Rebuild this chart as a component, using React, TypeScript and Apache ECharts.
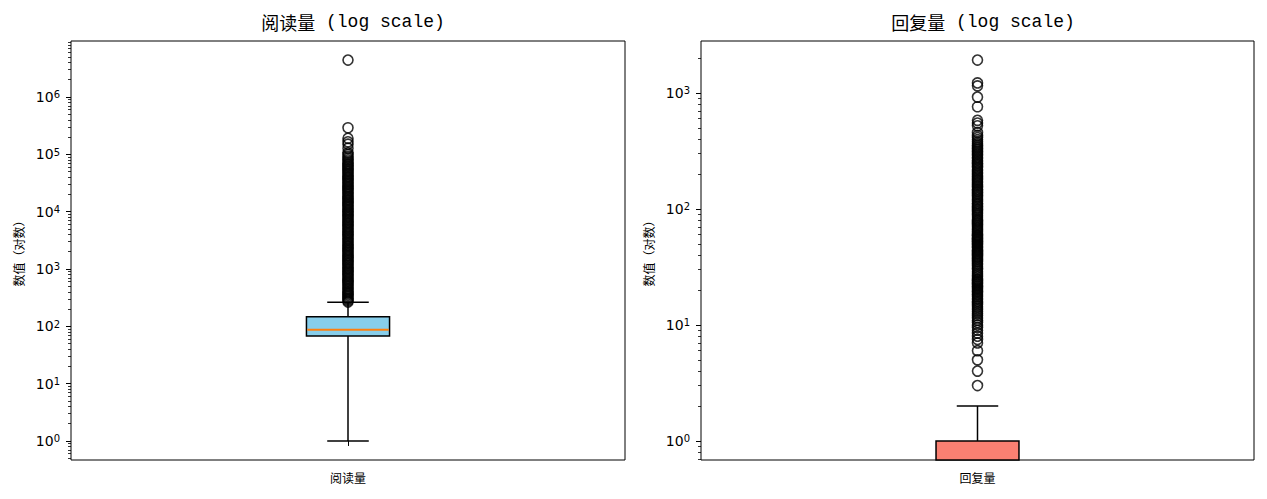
import React, { useEffect, useRef } from "react";
import * as echarts from "echarts";

// ---------- data ----------
const panelTitleCJK = ["阅读量", "回复量"];
const panelTitleSuffix = " (log scale)";
const categories = ["阅读量", "回复量"];
const yAxisName = "数值（对数）";

// [lower whisker, Q1, median, Q3, upper whisker]
const readBox = [1, 68, 87, 146, 263];
const replyBox = [0, 0, 0, 1, 2];

const readFliers = [
  265, 280, 295, 310, 330, 350, 370, 390, 410, 435, 460, 490, 520, 550, 580, 615, 650, 690, 730, 775,
  820, 870, 920, 975, 1030, 1090, 1160, 1230, 1300, 1380, 1460, 1550, 1640, 1740, 1840, 1950, 2070,
  2190, 2320, 2460, 2600, 2760, 2920, 3090, 3280, 3470, 3680, 3900, 4130, 4370, 4630, 4910, 5200,
  5510, 5840, 6180, 6550, 6940, 7350, 7790, 8250, 8740, 9260, 9810, 10400, 11000, 11700, 12400,
  13100, 13900, 14700, 15600, 16500, 17500, 18500, 19600, 20800, 22000, 23300, 24700, 26200, 27700,
  29400, 31100, 33000, 34900, 37000, 39200, 41500, 44000, 46600, 49400, 52300, 55400, 58700, 62200,
  66000, 70000, 75000, 80000, 86000, 92000, 99000, 106000, 128000, 150000, 165000, 190000, 290000,
  4400000,
];

const replyFliers = [
  3, 4, 5, 6, 7, 7.5, 8, 8.5, 9, 9.5, 10, 10.5, 11, 11.5, 12, 12.5, 13, 13.5, 14, 14.5, 15, 15.5, 16,
  16.5, 17, 17.5, 18, 18.5, 19, 19.5, 20, 20.5, 21, 21.5, 22, 22.5, 23, 23.5, 24, 24.5, 25, 26, 27,
  28, 29, 30, 31, 32, 33, 34, 35, 36, 37, 38, 39, 40, 41, 42, 43, 44, 45, 46, 47, 48, 49, 50, 51, 52,
  53, 54, 55, 56, 57, 58, 59, 60, 62, 64, 66, 68, 70, 72, 74, 76, 78, 80, 82, 85, 88, 91, 94, 97, 100,
  103, 106, 109, 112, 116, 120, 124, 128, 132, 136, 140, 144, 148, 153, 158, 163, 168, 173, 178, 183,
  189, 195, 201, 207, 213, 220, 227, 234, 241, 248, 255, 263, 271, 279, 288, 297, 306, 315, 325, 335,
  345, 356, 368, 380, 395, 412, 430, 455, 520, 550, 580, 760, 920, 1150, 1220, 1920,
];

const readExponents = [0, 1, 2, 3, 4, 5, 6];
const replyExponents = [0, 1, 2, 3];
const minorMultipliers = [2, 3, 4, 5, 6, 7, 8, 9];

const boxColors = ["#87CEEB", "#FA8072"];
const medianColor = "#FF7F0E";

// ---------- helpers ----------
function logLimits(values: number[]) {
  const pos = values.filter((v) => v > 0);
  const lo = Math.log10(Math.min(...pos));
  const hi = Math.log10(Math.max(...pos));
  const pad = (hi - lo) * 0.05;
  return [lo - pad, hi + pad];
}

function minorTicks(lim: number[]) {
  const out: number[] = [];
  for (let e = Math.floor(lim[0]) - 1; e <= Math.ceil(lim[1]); e++) {
    for (const m of minorMultipliers) {
      const v = Math.log10(m) + e;
      if (v > lim[0] && v < lim[1]) out.push(v);
    }
  }
  return out;
}

const TICK_FONT = "DejaVu Sans, sans-serif";
const CJK_FONT = "Noto Sans CJK SC, sans-serif";
const MONO_FONT = "Liberation Mono, DejaVu Sans Mono, Noto Sans CJK SC, monospace";

function makeBoxRender(boxVals: number[], color: string) {
  return (params: any, api: any) => {
    const cs = params.coordSys;
    const bottom = cs.y + cs.height;
    const cx = api.coord([0, 0])[0];
    const band = api.size([1, 0])[0];
    const bw = band * 0.15;
    const cw = bw / 2;
    const yOf = (v: number) => (v > 0 ? api.coord([0, Math.log10(v)])[1] : bottom);
    const [lo, q1, med, q3, hi] = boxVals;
    const line = { stroke: "#000", lineWidth: 1.5 };
    const children: any[] = [];
    if (lo > 0) {
      children.push({ type: "line", shape: { x1: cx, y1: yOf(q1), x2: cx, y2: yOf(lo) }, style: line });
      children.push({ type: "line", shape: { x1: cx - cw / 2, y1: yOf(lo), x2: cx + cw / 2, y2: yOf(lo) }, style: line });
    }
    children.push({ type: "line", shape: { x1: cx, y1: yOf(q3), x2: cx, y2: yOf(hi) }, style: line });
    children.push({ type: "line", shape: { x1: cx - cw / 2, y1: yOf(hi), x2: cx + cw / 2, y2: yOf(hi) }, style: line });
    children.push({
      type: "rect",
      shape: { x: cx - bw / 2, y: yOf(q3), width: bw, height: yOf(q1) - yOf(q3) },
      style: { fill: color, stroke: "#000", lineWidth: 1.5 },
    });
    if (med > 0) {
      children.push({
        type: "line",
        shape: { x1: cx - bw / 2 + 0.8, y1: yOf(med), x2: cx + bw / 2 - 0.8, y2: yOf(med) },
        style: { stroke: medianColor, lineWidth: 1.8 },
      });
    }
    return { type: "group", children };
  };
}

export default function App() {
  const ref = useRef<HTMLDivElement>(null);

  useEffect(() => {
    if (!ref.current) return;
    const chart = echarts.init(ref.current, undefined, { renderer: "svg" });

    const readLim = logLimits([...readBox, ...readFliers]);
    const replyLim = logLimits([...replyBox, ...replyFliers]);

    const grids = [
      { left: 71, top: 41, width: 554, height: 419 },
      { left: 701, top: 41, width: 553, height: 419 },
    ].map((g) => ({ ...g, show: true, borderColor: "#000", borderWidth: 1, backgroundColor: "#fff" }));

    const majorAxis = (gridIndex: number, lim: number[], exps: number[]) => ({
      type: "value",
      gridIndex,
      min: lim[0],
      max: lim[1],
      name: yAxisName,
      nameLocation: "middle",
      nameRotate: 90,
      nameGap: 47,
      nameTextStyle: { fontFamily: CJK_FONT, fontSize: 12, color: "#000" },
      axisLine: { show: false },
      splitLine: { show: false },
      axisTick: { show: true, customValues: exps, length: 5, lineStyle: { color: "#000", width: 1 } },
      axisLabel: {
        show: true,
        customValues: exps,
        margin: 11,
        formatter: (v: number) => `{b|10}{s|${Math.round(v)}}`,
        rich: {
          b: { fontFamily: TICK_FONT, fontSize: 14, color: "#000", lineHeight: 14, verticalAlign: "bottom", padding: [3, 0, 0, 0] },
          s: { fontFamily: TICK_FONT, fontSize: 10, color: "#000", lineHeight: 10, verticalAlign: "top" },
        },
      },
    });
    const minorAxis = (gridIndex: number, lim: number[]) => ({
      type: "value",
      gridIndex,
      position: "left",
      offset: 0,
      min: lim[0],
      max: lim[1],
      axisLine: { show: false },
      splitLine: { show: false },
      axisLabel: { show: false },
      axisTick: { show: true, customValues: minorTicks(lim), length: 3, lineStyle: { color: "#000", width: 0.8 } },
    });

    const xAxis = categories.map((c, i) => ({
      type: "category",
      gridIndex: i,
      data: [c],
      axisLine: { show: false },
      splitLine: { show: false },
      axisTick: { show: true, alignWithLabel: true, length: 5, lineStyle: { color: "#000", width: 1 } },
      axisLabel: { fontFamily: CJK_FONT, fontSize: 12, color: "#000", margin: 11 },
    }));

    const flierStyle = { color: "rgba(0,0,0,0)", borderColor: "#000", borderWidth: 1.6 };

    chart.setOption({
      animation: false,
      backgroundColor: "#fff",
      title: panelTitleCJK.map((t, i) => ({
        text: `{c|${t}}{l|${panelTitleSuffix}}`,
        left: i === 0 ? 348 : 978,
        top: 6,
        textAlign: "center",
        textStyle: {
          fontWeight: "normal",
          color: "#000",
          rich: {
            c: { fontFamily: CJK_FONT, fontSize: 18, color: "#000", lineHeight: 22 },
            l: { fontFamily: MONO_FONT, fontSize: 18, color: "#000", lineHeight: 22 },
          },
        },
      })),
      grid: grids,
      xAxis,
      yAxis: [
        majorAxis(0, readLim, readExponents),
        minorAxis(0, readLim),
        majorAxis(1, replyLim, replyExponents),
        minorAxis(1, replyLim),
      ],
      series: [
        {
          type: "custom",
          xAxisIndex: 0,
          yAxisIndex: 0,
          data: [[0, ...readBox]],
          renderItem: makeBoxRender(readBox, boxColors[0]),
          z: 2,
        },
        {
          type: "scatter",
          xAxisIndex: 0,
          yAxisIndex: 0,
          symbol: "circle",
          symbolSize: 10,
          data: readFliers.map((v) => [0, Math.log10(v)]),
          itemStyle: flierStyle,
          z: 3,
        },
        {
          type: "custom",
          xAxisIndex: 1,
          yAxisIndex: 2,
          data: [[0, ...replyBox]],
          renderItem: makeBoxRender(replyBox, boxColors[1]),
          z: 2,
        },
        {
          type: "scatter",
          xAxisIndex: 1,
          yAxisIndex: 2,
          symbol: "circle",
          symbolSize: 10,
          data: replyFliers.map((v) => [0, Math.log10(v)]),
          itemStyle: flierStyle,
          z: 3,
        },
      ],
    });

    return () => chart.dispose();
  }, []);

  return (
    <div
      ref={ref}
      style={{ position: "fixed", left: 0, top: 0, width: 1267, height: 499, background: "#fff" }}
    />
  );
}
